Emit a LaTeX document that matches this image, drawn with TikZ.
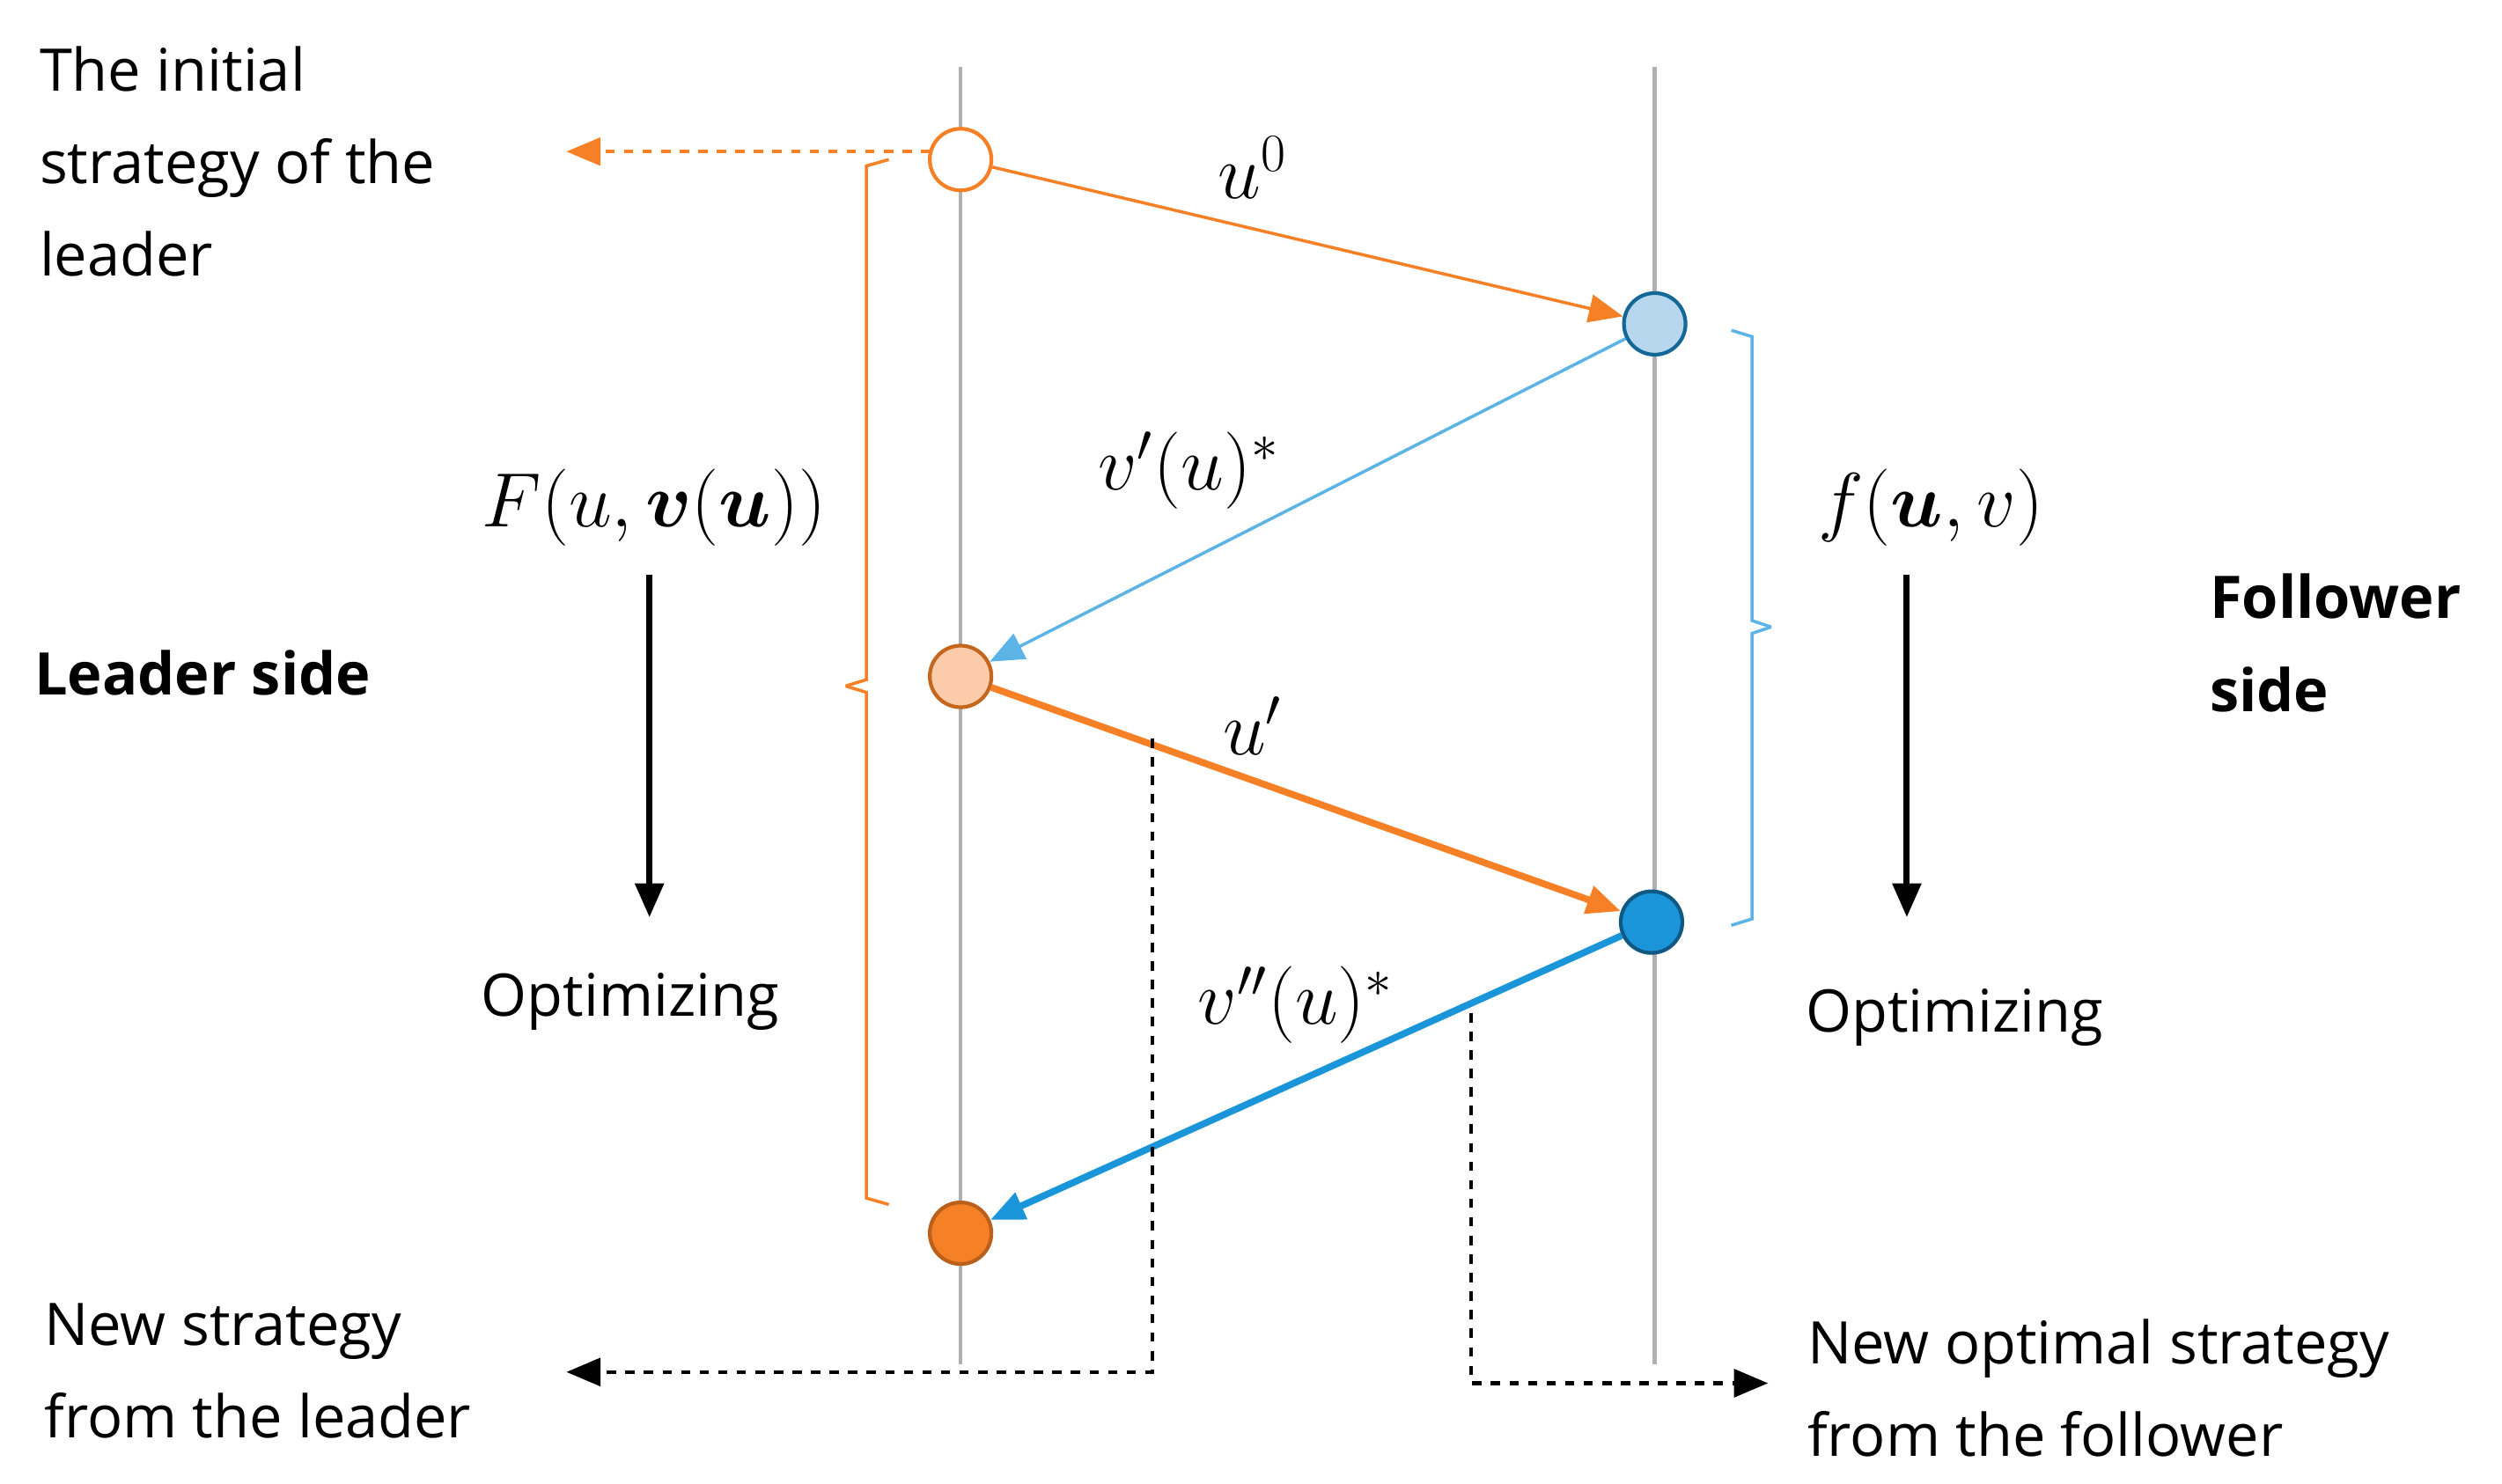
\documentclass[tikz,border=0pt]{standalone}
\usepackage{fontspec}
\setmainfont{Open Sans}
\usepackage{amsmath,bm}
\usetikzlibrary{arrows.meta}
\definecolor{org}{HTML}{F58025}
\definecolor{peach}{HTML}{FBCBAA}
\definecolor{lblue}{HTML}{B7D7EF}
\definecolor{lbl}{HTML}{5BB4E5}
\definecolor{blu}{HTML}{1B95D9}
\definecolor{ax}{HTML}{B0B0B0}
\begin{document}
\begin{tikzpicture}[x=0.018125cm,y=-0.018125cm,
 dot/.style={circle,minimum size=38\pgflinewidth,inner sep=0pt,line width=1.2pt},
 txt/.style={font=\fontsize{19}{30}\selectfont,align=left},
 mth/.style={font=\fontsize{23}{28}\selectfont},
 tip/.style={-{Triangle[length=11pt,width=9pt]}}]
\useasboundingbox (0,0) rectangle (1568,930);
\draw[ax,line width=1.2pt] (602,42)--(602,855);
\draw[ax,line width=1.2pt] (1037,42)--(1037,855);
\node[dot,minimum size=0.7cm,draw=org,fill=white] (a) at (602,100) {};
\node[dot,minimum size=0.7cm,draw=blu!70!black,fill=lblue] (b) at (1037,203) {};
\node[dot,minimum size=0.7cm,draw=org!80!black,fill=peach] (c) at (602,424) {};
\node[dot,minimum size=0.7cm,draw=blu!60!black,fill=blu] (d) at (1035,578) {};
\node[dot,minimum size=0.7cm,draw=org!75!black,fill=org] (e) at (602,773) {};
\draw[org,line width=1pt,tip] (a)--(b);
\draw[lbl,line width=1pt,tip] (b)--(c);
\draw[org,line width=2.2pt,tip] (c)--(d);
\draw[blu,line width=2.2pt,tip] (d)--(e);
\node[mth] (l1) at (785,105) {$u^0$};
\node[mth] (l2) at (745,295) {$v'(u)^*$};
\node[mth] (l3) at (785,455) {$u'$};
\node[mth] (l4) at (812,630) {$v''(u)^*$};
\coordinate (t0) at (355,95);
\draw[org,dashed,line width=1pt,tip] (583,95)--(t0);
\draw[org,line width=1pt] (557,100)--(543,104)--(543,426)--(530,430);
\draw[org,line width=1pt] (530,430)--(543,434)--(543,751)--(557,755);
\draw[lbl,line width=1pt] (1085,207)--(1098,211)--(1098,389)--(1110,393);
\draw[lbl,line width=1pt] (1110,393)--(1098,397)--(1098,576)--(1085,580);
\node[mth] (F) at (410,318) {$F(u,\bm{v}(\bm{u}))$};
\node[mth] (f) at (1210,318) {$f(\bm{u},v)$};
\coordinate (A1) at (407,360); \coordinate (A2) at (407,575);
\coordinate (B1) at (1195,360); \coordinate (B2) at (1195,575);
\draw[line width=2pt,tip] (A1)--(A2);
\draw[line width=2pt,tip] (B1)--(B2);
\node[txt] (o1) at (395,628) {Optimizing};
\node[txt] (o2) at (1225,638) {Optimizing};
\node[txt,font=\fontsize{19}{30}\selectfont\bfseries] (ls) at (127,422) {Leader side};
\node[txt,font=\fontsize{19}{30}\selectfont\bfseries,anchor=west] (fs) at (1378,403) {Follower\\side};
\node[txt,anchor=north west] (it) at (18,22) {The initial\\strategy of the\\leader};
\node[txt,anchor=north west] (ns) at (21,810) {New strategy\\from the leader};
\node[txt,anchor=north west] (no) at (1126,820) {New optimal strategy\\from the follower};
\coordinate (p1) at (722,463); \coordinate (p2) at (722,860); \coordinate (p3) at (355,860);
\draw[dashed,line width=1.2pt,tip] (p1)--(p2)--(p3);
\coordinate (q1) at (922,635); \coordinate (q2) at (922,867); \coordinate (q3) at (1108,867);
\draw[dashed,line width=1.2pt,tip] (q1)--(q2)--(q3);
\end{tikzpicture}
\end{document}
